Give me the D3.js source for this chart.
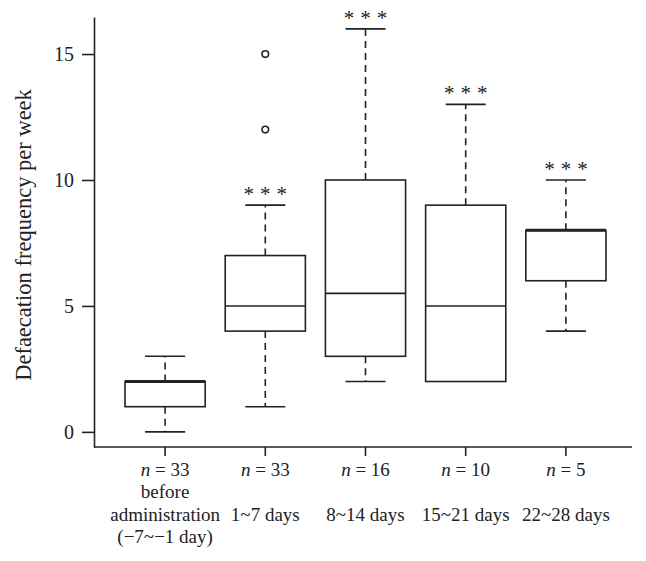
<!DOCTYPE html>
<html>
<head>
<meta charset="utf-8">
<script src="https://cdn.jsdelivr.net/npm/d3@7/dist/d3.min.js"></script>
<style>
  html, body { margin: 0; padding: 0; background: #fff; }
  svg { display: block; }
  text { font-family: "Liberation Serif", "Times New Roman", serif; fill: #222; }
</style>
</head>
<body>
<svg id="chart" width="646" height="561"></svg>
<script>
// ---- data ----
const categories = ["before administration", "1~7 days", "8~14 days", "15~21 days", "22~28 days"];
const labelLines = [["before", "administration", "(\u22127~\u22121 day)"], ["", "1~7 days"], ["", "8~14 days"], ["", "15~21 days"], ["", "22~28 days"]];
const sampleSizes = [33, 33, 16, 10, 5];
const whiskerLow = [0, 1, 2, 2, 4];
const quartile1 = [1, 4, 3, 2, 6];
const medians = [2, 5, 5.5, 5, 8];
const quartile3 = [2, 7, 10, 9, 8];
const whiskerHigh = [3, 9, 16, 13, 10];
const outliers = [[], [12, 15], [], [], []];
const significance = ["", "***", "***", "***", "***"];
const yTicks = [0, 5, 10, 15];
const yTitle = "Defaecation frequency per week";

// ---- layout ----
const svg = d3.select("#chart");
const ink = "#222";
const x = d3.scaleBand().domain(categories).range([115, 616]).padding(0);
const y = d3.scaleLinear().domain([-0.6, 16.47]).range([447, 17]);
const boxW = x.bandwidth() * 0.8;
const capW = boxW * 0.5;

// y axis
const yAxis = svg.append("g").attr("transform", "translate(94,0)")
  .call(d3.axisLeft(y).tickValues(yTicks).tickSize(12).tickPadding(8).tickSizeOuter(0));
yAxis.select(".domain").attr("stroke", ink).attr("stroke-width", 1.6);
yAxis.selectAll(".tick line").attr("stroke", ink).attr("stroke-width", 1.6);
yAxis.selectAll(".tick text").attr("font-size", 20).attr("fill", ink)
  .style("font-family", "'Liberation Serif', serif");

// x axis
const xAxis = svg.append("g").attr("transform", "translate(0,447)")
  .call(d3.axisBottom(x).tickSize(9).tickFormat(""));
xAxis.select(".domain").remove();
xAxis.selectAll(".tick line").attr("stroke", ink).attr("stroke-width", 1.6);
svg.append("line").attr("x1", 94).attr("x2", 632).attr("y1", 447).attr("y2", 447)
  .attr("stroke", ink).attr("stroke-width", 1.6);

// x labels
const lab = svg.append("g").attr("font-size", 19).attr("text-anchor", "middle");
categories.forEach((c, i) => {
  const cx = x(c) + x.bandwidth() / 2;
  const t = lab.append("text").attr("x", cx).attr("y", 476);
  t.append("tspan").attr("font-style", "italic").text("n");
  t.append("tspan").text(" = " + sampleSizes[i]);
  labelLines[i].forEach((line, j) => {
    if (!line) return;
    lab.append("text").attr("x", cx).attr("y", 498 + j * 22.5).text(line);
  });
});

// y title
svg.append("text")
  .attr("transform", "translate(31,235) rotate(-90)")
  .attr("text-anchor", "middle").attr("font-size", 22.5)
  .text(yTitle);

// boxes
const g = svg.append("g").attr("stroke", ink).attr("fill", "none").attr("stroke-width", 1.6);
categories.forEach((c, i) => {
  const cx = x(c) + x.bandwidth() / 2;
  if (whiskerHigh[i] > quartile3[i])
    g.append("line").attr("x1", cx).attr("x2", cx).attr("y1", y(quartile3[i])).attr("y2", y(whiskerHigh[i]))
      .attr("stroke-dasharray", "7,5");
  if (whiskerLow[i] < quartile1[i])
    g.append("line").attr("x1", cx).attr("x2", cx).attr("y1", y(quartile1[i])).attr("y2", y(whiskerLow[i]))
      .attr("stroke-dasharray", "7,5");
  if (whiskerHigh[i] > quartile3[i])
    g.append("line").attr("x1", cx - capW / 2).attr("x2", cx + capW / 2)
      .attr("y1", y(whiskerHigh[i])).attr("y2", y(whiskerHigh[i]));
  if (whiskerLow[i] < quartile1[i])
    g.append("line").attr("x1", cx - capW / 2).attr("x2", cx + capW / 2)
      .attr("y1", y(whiskerLow[i])).attr("y2", y(whiskerLow[i]));
  g.append("rect").attr("x", cx - boxW / 2).attr("width", boxW)
    .attr("y", y(quartile3[i])).attr("height", y(quartile1[i]) - y(quartile3[i]))
    .attr("fill", "#fff");
  g.append("line").attr("x1", cx - boxW / 2).attr("x2", cx + boxW / 2)
    .attr("y1", y(medians[i])).attr("y2", y(medians[i]))
    .attr("stroke-width", medians[i] === quartile3[i] ? 3 : 1.6);
  outliers[i].forEach(v => {
    g.append("circle").attr("cx", cx).attr("cy", y(v)).attr("r", 3.3).attr("stroke-width", 1.6);
  });
  if (significance[i]) {
    svg.append("text").attr("x", cx + 3).attr("y", y(whiskerHigh[i]) - 4)
      .attr("text-anchor", "middle").attr("font-size", 21).attr("letter-spacing", 6)
      .attr("fill", "#333")
      .text(significance[i]);
  }
});
</script>
</body>
</html>
